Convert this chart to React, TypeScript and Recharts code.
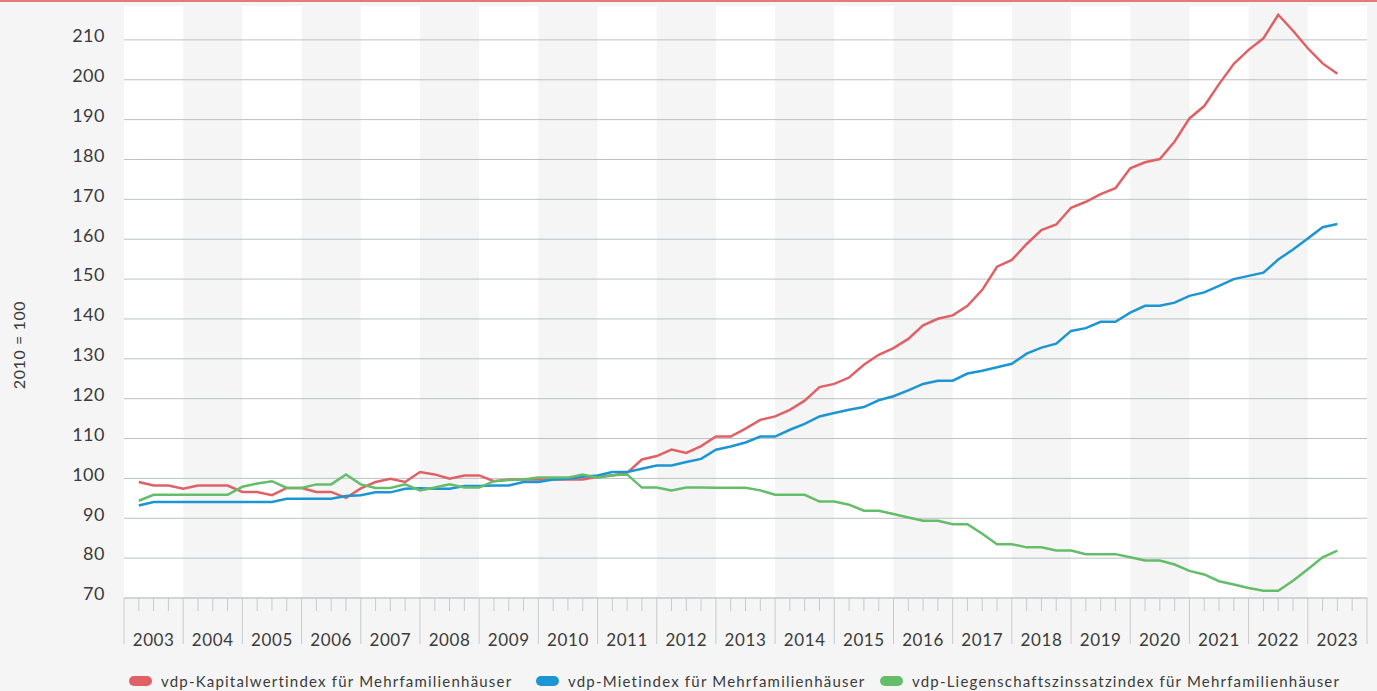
import { LineChart, Line, XAxis, YAxis, ReferenceArea, ReferenceLine } from 'recharts';

// vdp-Indizes für Mehrfamilienhäuser, quartalsweise 2003 Q1 – 2023 Q2 (2010 = 100)
const YEARS = [
  '2003', '2004', '2005', '2006', '2007', '2008', '2009', '2010', '2011', '2012', '2013',
  '2014', '2015', '2016', '2017', '2018', '2019', '2020', '2021', '2022', '2023',
];

const KAPITALWERT = [
  99.1, 98.2, 98.2, 97.4, 98.2, 98.2, 98.2, 96.6, 96.6, 95.8, 97.6, 97.6, 96.6, 96.6, 95.1, 97.5,
  99.1, 99.9, 99.1, 101.6, 101.0, 99.9, 100.75, 100.75, 99.3, 99.75, 99.75, 99.75, 99.75, 99.75,
  99.75, 100.4, 100.75, 101.4, 104.75, 105.6, 107.25, 106.4, 108.1, 110.5, 110.5, 112.5, 114.7,
  115.55, 117.2, 119.5, 122.9, 123.7, 125.3, 128.5, 131.0, 132.7, 135.0, 138.4, 140.05, 140.9,
  143.3, 147.3, 153.1, 154.8, 158.8, 162.3, 163.7, 167.9, 169.4, 171.3, 172.8, 177.8, 179.3,
  180.1, 184.5, 190.3, 193.4, 198.9, 204.0, 207.5, 210.4, 216.3, 212.3, 207.9, 204.1, 201.5,
];

const MIETE = [
  93.2, 94.1, 94.1, 94.1, 94.1, 94.1, 94.1, 94.1, 94.1, 94.1, 94.9, 94.9, 94.9, 94.9, 95.6, 95.8,
  96.5, 96.5, 97.4, 97.5, 97.4, 97.4, 98.1, 98.1, 98.25, 98.25, 99.1, 99.1, 99.75, 99.9, 100.4,
  100.75, 101.6, 101.6, 102.4, 103.25, 103.25, 104.1, 104.9, 107.2, 108.0, 109.0, 110.5, 110.5,
  112.2, 113.7, 115.55, 116.4, 117.2, 117.9, 119.6, 120.6, 122.1, 123.7, 124.5, 124.5, 126.3,
  127.0, 127.9, 128.75, 131.3, 132.8, 133.8, 137.0, 137.7, 139.3, 139.3, 141.6, 143.3, 143.3,
  144.1, 145.8, 146.65, 148.3, 150.0, 150.8, 151.6, 154.9, 157.4, 160.2, 163.0, 163.8,
];

const LIEGENSCHAFTSZINS = [
  94.4, 95.9, 95.9, 95.9, 95.9, 95.9, 95.9, 97.9, 98.7, 99.3, 97.6, 97.6, 98.5, 98.5, 101.0, 98.5,
  97.6, 97.6, 98.5, 97.0, 97.7, 98.5, 97.7, 97.7, 99.3, 99.6, 99.75, 100.2, 100.2, 100.2, 101.0,
  100.2, 100.8, 101.0, 97.7, 97.7, 97.0, 97.7, 97.7, 97.65, 97.65, 97.65, 97.0, 95.9, 95.9, 95.9,
  94.2, 94.2, 93.4, 91.9, 91.9, 91.05, 90.2, 89.4, 89.4, 88.5, 88.5, 86.1, 83.5, 83.5, 82.7, 82.7,
  81.9, 81.9, 81.0, 81.0, 81.0, 80.2, 79.4, 79.4, 78.4, 76.8, 75.9, 74.2, 73.4, 72.5, 71.8, 71.8,
  74.3, 77.2, 80.2, 81.9,
];

const Y_TICKS = [70, 80, 90, 100, 110, 120, 130, 140, 150, 160, 170, 180, 190, 200, 210];

const RED = '#e06165';
const BLUE = '#1b96d3';
const GREEN = '#64bd69';
const BG = '#f4f5f4';
const GRID = '#bcc1c4';
const TICK = '#c6cbce';
const TEXT = '#3b3b3b';
const FONT = 'Lato, "Open Sans", sans-serif';

const PLOT_LEFT = 124;
const LABEL_GAP = 19; // Abstand Achsenbeschriftung → Diagrammfläche

const LEGEND = [
  { label: 'vdp-Kapitalwertindex für Mehrfamilienhäuser', color: RED, left: 129 },
  { label: 'vdp-Mietindex für Mehrfamilienhäuser', color: BLUE, left: 536 },
  { label: 'vdp-Liegenschaftszinssatzindex für Mehrfamilienhäuser', color: GREEN, left: 880 },
];

// x = Quartalsende (1 = Ende 2003 Q1)
const data = KAPITALWERT.map((v, i) => ({
  q: i + 1,
  kapital: v,
  miete: MIETE[i],
  zins: LIEGENSCHAFTSZINS[i],
}));

const quarterTicks = Array.from({ length: YEARS.length * 4 + 1 }, (_, i) => i);

function QuarterTick({ x, y, payload }: any) {
  const v = payload.value as number;
  const yearStart = v % 4 === 0;
  const label = v % 4 === 2 ? YEARS[(v - 2) / 4] : null;
  return (
    <g>
      <line x1={x} x2={x} y1={y} y2={y + (yearStart ? 46 : 13)} stroke={TICK} strokeWidth={1} />
      {label && (
        <text x={x} y={y + 48} textAnchor="middle" fill={TEXT} fontSize={17} fontFamily={FONT} letterSpacing={0.6}>
          {label}
        </text>
      )}
    </g>
  );
}

function ValueTick({ y, payload }: any) {
  return (
    <text x={PLOT_LEFT - LABEL_GAP} y={y - 4} dy="0.35em" textAnchor="end" fill={TEXT} fontSize={18} fontFamily={FONT} letterSpacing={0.5}>
      {payload.value}
    </text>
  );
}

export default function App() {
  return (
    <div style={{ position: 'absolute', left: 0, top: 0, width: 1377, height: 691, background: BG, fontFamily: FONT, overflow: 'hidden' }}>
      <div style={{ position: 'absolute', left: 0, top: 0, width: 1377, height: 2, background: '#e47a78' }} />

      <div
        style={{
          position: 'absolute', left: 18, top: 345, transform: 'translate(-50%, -50%) rotate(-90deg)',
          whiteSpace: 'nowrap', fontSize: 16, color: TEXT, letterSpacing: 0.6,
        }}
      >
        2010 = 100
      </div>

      <LineChart width={1377} height={660} data={data} margin={{ top: 6, right: 10, bottom: 0, left: 0 }}>
        {YEARS.map((yr, k) =>
          k % 2 === 0 ? (
            <ReferenceArea key={yr} x1={k * 4} x2={k * 4 + 4} fill="#ffffff" fillOpacity={1} stroke="none" />
          ) : null,
        )}
        {Y_TICKS.map(t => (
          <ReferenceLine key={t} y={t} stroke={GRID} strokeWidth={1} />
        ))}
        <XAxis
          dataKey="q"
          type="number"
          domain={[0, YEARS.length * 4]}
          ticks={quarterTicks}
          interval={0}
          height={62}
          axisLine={{ stroke: TICK }}
          tickLine={false}
          tickSize={0}
          tickMargin={0}
          tick={QuarterTick}
        />
        <YAxis
          type="number"
          domain={[70, 218.5]}
          ticks={Y_TICKS}
          interval={0}
          width={PLOT_LEFT}
          axisLine={false}
          tickLine={false}
          tick={ValueTick}
          allowDataOverflow
        />
        <Line dataKey="kapital" stroke={RED} strokeWidth={2.5} dot={false} isAnimationActive={false} />
        <Line dataKey="miete" stroke={BLUE} strokeWidth={2.5} dot={false} isAnimationActive={false} />
        <Line dataKey="zins" stroke={GREEN} strokeWidth={2.5} dot={false} isAnimationActive={false} />
      </LineChart>

      {LEGEND.map(item => (
        <div
          key={item.label}
          style={{ position: 'absolute', left: item.left, top: 671, height: 20, display: 'flex', alignItems: 'center', whiteSpace: 'nowrap' }}
        >
          <span style={{ width: 23, height: 10, borderRadius: 5, background: item.color, display: 'inline-block', marginRight: 9 }} />
          <span style={{ fontSize: 15, color: TEXT, letterSpacing: 1.2 }}>{item.label}</span>
        </div>
      ))}
    </div>
  );
}
